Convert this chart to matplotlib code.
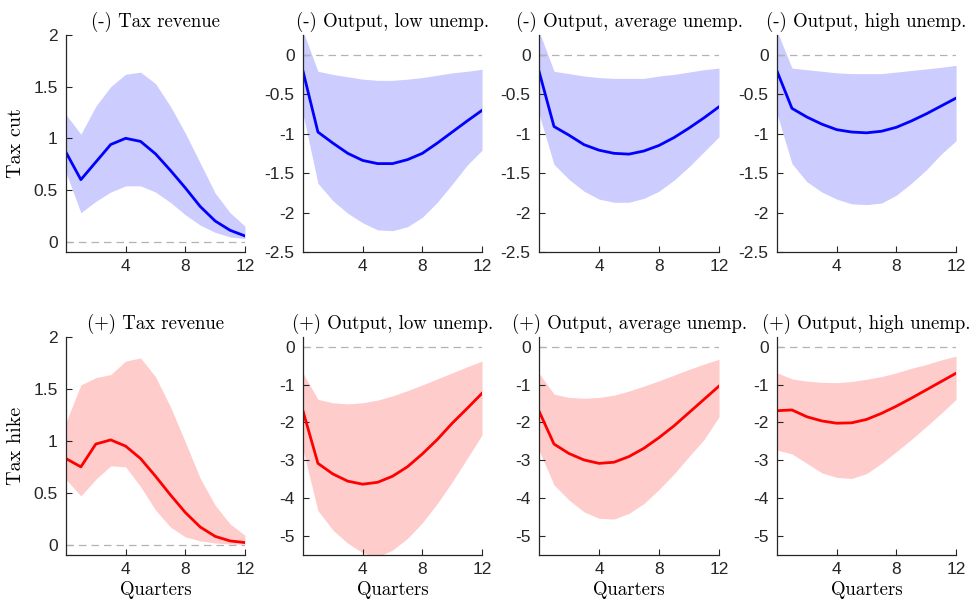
import matplotlib
matplotlib.use("Agg")
import matplotlib.pyplot as plt
import numpy as np

plt.rcParams['axes.unicode_minus'] = False

quarters = list(range(13))

# Row 1: tax cut
cut_rev_med = [0.865, 0.60, 0.77, 0.94, 1.00, 0.97, 0.85, 0.69, 0.52, 0.34, 0.20, 0.11, 0.055]
cut_rev_hi = [1.23, 1.04, 1.31, 1.50, 1.62, 1.64, 1.53, 1.31, 1.05, 0.76, 0.47, 0.28, 0.15]
cut_rev_lo = [0.67, 0.28, 0.39, 0.48, 0.54, 0.54, 0.48, 0.38, 0.26, 0.16, 0.09, 0.045, 0.03]

cut_low_med = [-0.21, -0.98, -1.12, -1.25, -1.34, -1.38, -1.38, -1.33, -1.25, -1.12, -0.98, -0.84, -0.705]
cut_low_hi = [0.30, -0.21, -0.25, -0.28, -0.31, -0.325, -0.325, -0.31, -0.29, -0.26, -0.23, -0.21, -0.185]
cut_low_lo = [-0.75, -1.63, -1.85, -2.01, -2.13, -2.22, -2.23, -2.18, -2.06, -1.87, -1.64, -1.40, -1.21]

cut_avg_med = [-0.21, -0.91, -1.02, -1.14, -1.21, -1.25, -1.26, -1.22, -1.15, -1.05, -0.93, -0.80, -0.66]
cut_avg_hi = [0.30, -0.21, -0.24, -0.27, -0.29, -0.30, -0.30, -0.30, -0.27, -0.25, -0.22, -0.19, -0.17]
cut_avg_lo = [-0.75, -1.39, -1.58, -1.73, -1.83, -1.87, -1.87, -1.82, -1.73, -1.59, -1.42, -1.23, -1.04]

cut_high_med = [-0.21, -0.68, -0.79, -0.88, -0.95, -0.98, -0.99, -0.97, -0.92, -0.84, -0.75, -0.65, -0.55]
cut_high_hi = [0.30, -0.17, -0.19, -0.21, -0.23, -0.24, -0.24, -0.24, -0.22, -0.20, -0.18, -0.16, -0.135]
cut_high_lo = [-0.75, -1.38, -1.61, -1.74, -1.83, -1.89, -1.90, -1.88, -1.78, -1.63, -1.46, -1.26, -1.09]

# Row 2: tax hike
hike_rev_med = [0.83, 0.75, 0.97, 1.01, 0.95, 0.83, 0.66, 0.48, 0.31, 0.17, 0.08, 0.036, 0.02]
hike_rev_hi = [1.18, 1.54, 1.61, 1.64, 1.77, 1.80, 1.62, 1.33, 0.99, 0.64, 0.38, 0.20, 0.09]
hike_rev_lo = [0.63, 0.47, 0.63, 0.76, 0.75, 0.56, 0.335, 0.17, 0.075, 0.036, 0.016, 0.006, 0.003]

hike_low_med = [-1.70, -3.08, -3.36, -3.55, -3.63, -3.58, -3.42, -3.17, -2.83, -2.45, -2.02, -1.63, -1.23]
hike_low_hi = [-0.70, -1.39, -1.48, -1.51, -1.48, -1.41, -1.30, -1.16, -1.01, -0.85, -0.69, -0.53, -0.38]
hike_low_lo = [-2.73, -4.33, -4.84, -5.19, -5.44, -5.55, -5.37, -5.06, -4.65, -4.14, -3.57, -2.95, -2.33]

hike_avg_med = [-1.70, -2.57, -2.82, -2.99, -3.08, -3.05, -2.90, -2.68, -2.40, -2.09, -1.74, -1.39, -1.04]
hike_avg_hi = [-0.70, -1.25, -1.34, -1.36, -1.34, -1.28, -1.17, -1.04, -0.90, -0.75, -0.60, -0.46, -0.33]
hike_avg_lo = [-2.73, -3.65, -4.05, -4.36, -4.53, -4.55, -4.40, -4.14, -3.77, -3.36, -2.90, -2.45, -1.85]

hike_high_med = [-1.69, -1.67, -1.85, -1.96, -2.02, -2.01, -1.92, -1.76, -1.57, -1.36, -1.14, -0.92, -0.70]
hike_high_hi = [-0.69, -0.85, -0.91, -0.94, -0.95, -0.92, -0.86, -0.79, -0.69, -0.57, -0.47, -0.35, -0.25]
hike_high_lo = [-2.73, -2.83, -3.08, -3.33, -3.45, -3.48, -3.35, -3.08, -2.77, -2.45, -2.11, -1.76, -1.39]

titles_top = ["(-) Tax revenue", "(-) Output, low unemp.", "(-) Output, average unemp.", "(-) Output, high unemp."]
titles_bot = ["(+) Tax revenue", "(+) Output, low unemp.", "(+) Output, average unemp.", "(+) Output, high unemp."]
xticks = [4, 8, 12]
rev_yticks = [0, 0.5, 1, 1.5, 2]
rev_yticklabels = ["0", "0.5", "1", "1.5", "2"]
cut_out_yticks = [0, -0.5, -1, -1.5, -2, -2.5]
cut_out_yticklabels = ["0", "-0.5", "-1", "-1.5", "-2", "-2.5"]
hike_out_yticks = [0, -1, -2, -3, -4, -5]
hike_out_yticklabels = ["0", "-1", "-2", "-3", "-4", "-5"]

top_data = [(cut_rev_med, cut_rev_lo, cut_rev_hi), (cut_low_med, cut_low_lo, cut_low_hi),
            (cut_avg_med, cut_avg_lo, cut_avg_hi), (cut_high_med, cut_high_lo, cut_high_hi)]
bot_data = [(hike_rev_med, hike_rev_lo, hike_rev_hi), (hike_low_med, hike_low_lo, hike_low_hi),
            (hike_avg_med, hike_avg_lo, hike_avg_hi), (hike_high_med, hike_high_lo, hike_high_hi)]

serif = ['cmr10', 'DejaVu Serif']
sans = 'Liberation Sans'
spine_c = '#262626'

fig = plt.figure(figsize=(9.8, 6.05), dpi=100)
lefts = [0.0673, 0.3092, 0.5500, 0.7929]
widths = [0.1827, 0.1827, 0.1837, 0.1827]
rows = [(0.5835, 0.3587), (0.0826, 0.3600)]


def style(ax, yt, ytl, ylim):
    ax.set_xlim(0, 12)
    ax.set_ylim(*ylim)
    ax.set_xticks(xticks)
    ax.set_xticklabels([str(t) for t in xticks])
    ax.set_yticks(yt)
    ax.set_yticklabels(ytl)
    for s in ['top', 'right']:
        ax.spines[s].set_visible(False)
    for s in ['left', 'bottom']:
        ax.spines[s].set_color(spine_c)
        ax.spines[s].set_linewidth(0.9)
    ax.tick_params(direction='in', length=4, width=0.8, color=spine_c, labelcolor='#262626')
    ax.tick_params(axis='y', pad=6)
    ax.tick_params(axis='x', pad=5)
    for lab in ax.get_xticklabels() + ax.get_yticklabels():
        lab.set_fontfamily(sans)
        lab.set_fontsize(12.5)


for r, (data, titles, color, fill) in enumerate([(top_data, titles_top, 'blue', '#ccccff'),
                                                 (bot_data, titles_bot, 'red', '#ffcccc')]):
    b, h = rows[r]
    for c in range(4):
        ax = fig.add_axes([lefts[c], b, widths[c], h])
        med, lo, hi = data[c]
        ax.fill_between(quarters, lo, hi, color=fill, linewidth=0)
        ax.axhline(0, color='#b3b3b3', linestyle=(0, (6, 4)), linewidth=0.9)
        ax.plot(quarters, med, color=color, linewidth=2.0)
        if c == 0:
            style(ax, rev_yticks, rev_yticklabels, (-0.1, 2))
        elif r == 0:
            style(ax, cut_out_yticks, cut_out_yticklabels, (-2.5, 0.25))
        else:
            style(ax, hike_out_yticks, hike_out_yticklabels, (-5.5, 0.25))
        ax.set_title(titles[c], family=serif, fontsize=13.5, pad=6)
        if c == 0:
            ax.set_ylabel("Tax cut" if r == 0 else "Tax hike", family=serif, fontsize=14.5, labelpad=6)
        if r == 1:
            ax.set_xlabel("Quarters", family=serif, fontsize=13.5, labelpad=3)

fig.savefig("out.png", dpi=100)
